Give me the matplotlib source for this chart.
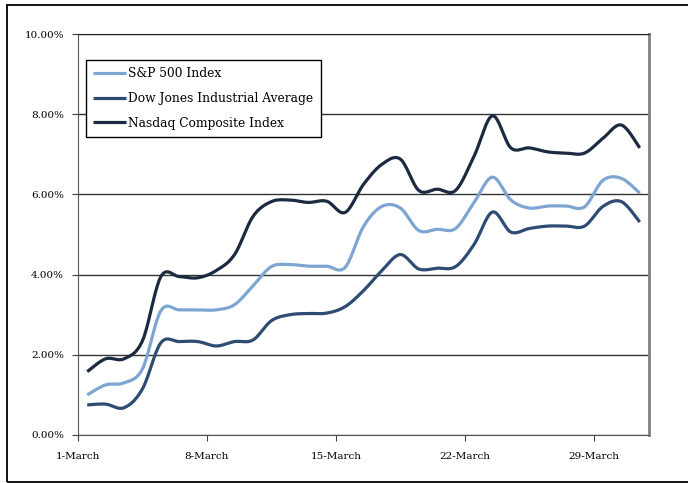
import matplotlib
matplotlib.use("Agg")
import matplotlib.pyplot as plt
import numpy as np
from matplotlib.patches import Rectangle

# daily returns, 1..31 March (%)
days = np.arange(31)
sp500 = [1.00, 1.25, 1.30, 1.65, 3.10, 3.12, 3.12, 3.12, 3.25, 3.72, 4.20,
         4.25, 4.21, 4.21, 4.18, 5.20, 5.70, 5.66, 5.10, 5.13, 5.15, 5.80,
         6.43, 5.86, 5.66, 5.71, 5.71, 5.69, 6.35, 6.40, 6.03]
dow = [0.75, 0.77, 0.68, 1.15, 2.30, 2.33, 2.33, 2.22, 2.33, 2.37, 2.85,
       3.00, 3.03, 3.04, 3.20, 3.60, 4.10, 4.50, 4.14, 4.16, 4.20, 4.75,
       5.56, 5.06, 5.15, 5.21, 5.21, 5.21, 5.70, 5.82, 5.31]
nasdaq = [1.58, 1.90, 1.90, 2.35, 3.95, 3.95, 3.92, 4.10, 4.50, 5.45, 5.82,
          5.86, 5.80, 5.83, 5.55, 6.25, 6.75, 6.88, 6.10, 6.13, 6.10, 6.95,
          7.96, 7.16, 7.16, 7.06, 7.03, 7.03, 7.40, 7.73, 7.16]

series = [
    ("S&P 500 Index", sp500, "#7da5d2"),
    ("Dow Jones Industrial Average", dow, "#2e4c73"),
    ("Nasdaq Composite Index", nasdaq, "#1b2a40"),
]
tick_days = [0, 7, 14, 21, 28]
tick_labels = ["1-March", "8-March", "15-March", "22-March", "29-March"]
y_ticks = [0, 2, 4, 6, 8, 10]


def smooth(x, y, n=20):
    """Excel-style smoothed line (Catmull-Rom through the points)."""
    p = np.column_stack([x, y]).astype(float)
    p = np.vstack([p[0], p, p[-1]])
    out = []
    t = np.linspace(0, 1, n)[:, None]
    for i in range(1, len(p) - 2):
        p0, p1, p2, p3 = p[i - 1], p[i], p[i + 1], p[i + 2]
        c1 = p1 + (p2 - p0) / 6
        c2 = p2 - (p3 - p1) / 6
        seg = ((1 - t) ** 3 * p1 + 3 * (1 - t) ** 2 * t * c1
               + 3 * (1 - t) * t ** 2 * c2 + t ** 3 * p2)
        out.append(seg if i == 1 else seg[1:])
    out = np.vstack(out)
    return out[:, 0], out[:, 1]


plt.rcParams['font.family'] = ['DejaVu Serif']
fig = plt.figure(figsize=(6.88, 4.83), dpi=100)
ax = fig.add_axes([78 / 688, 48 / 483, 571 / 688, 401 / 483])

for label, values, color in series:
    sx, sy = smooth(days + 0.5, values)
    ax.plot(sx, sy, color=color, lw=2.3, label=label, solid_capstyle='butt')

ax.set_xlim(0, 31)
ax.set_ylim(0, 10)
ax.set_xticks(tick_days)
ax.set_xticklabels(tick_labels)
ax.set_yticks(y_ticks)
ax.set_yticklabels([f"{v:.2f}%" for v in y_ticks])
ax.tick_params(labelsize=7.5, length=4, color="#404040")
ax.tick_params(axis="y", pad=6)
ax.tick_params(axis="x", pad=8)
ax.yaxis.grid(True, color="#333333", lw=1)
ax.set_axisbelow(True)
for side in ["left", "bottom"]:
    ax.spines[side].set_color("#555555")
ax.spines["top"].set_color("#222222")
ax.spines["right"].set_color("#808080")
ax.spines["right"].set_linewidth(2)

leg = ax.legend(loc="upper left", bbox_to_anchor=(0.014, 0.935), borderaxespad=0,
                fontsize=8.8, fancybox=False, framealpha=1, edgecolor="black",
                handlelength=2.7, handletextpad=0.15, labelspacing=0.95,
                borderpad=0.6)
leg.get_frame().set_linewidth(1)

fig.patches.append(Rectangle((7 / 688, 1 / 483), 1.1, 477 / 483, transform=fig.transFigure,
                             fill=False, edgecolor="black", lw=1.3))

fig.savefig("out.png", dpi=100)
